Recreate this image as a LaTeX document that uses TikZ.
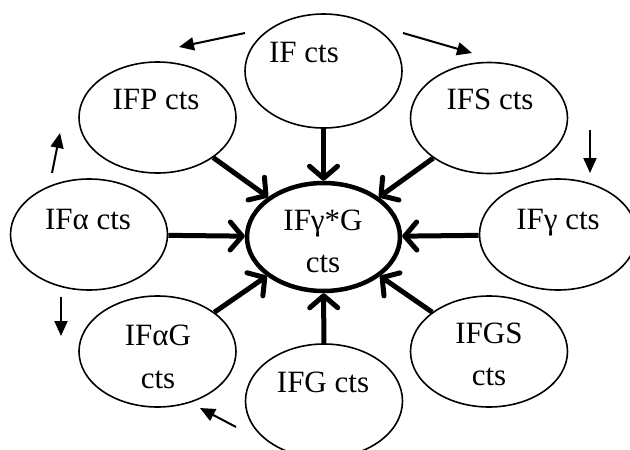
\documentclass[tikz,border=0pt]{standalone}
\usepackage{fontspec}
\setmainfont{Liberation Serif}
\usetikzlibrary{shapes.geometric,arrows.meta}
\begin{document}
\begin{tikzpicture}[x=1pt,y=-1pt,
  ell/.style={ellipse,draw,line width=1.6pt,inner sep=0pt,minimum width=157pt,minimum height=111pt},
  lbl/.style={anchor=base,inner sep=0pt,font=\fontsize{31}{37}\selectfont},
  thickarr/.style={line width=5pt,-{Straight Barb[length=12pt,width=28pt,line cap=round,line join=round]}},
  smallarr/.style={line width=2pt,-{Triangle[length=15pt,width=13pt]}}]
\useasboundingbox (0,0) rectangle (630,450);
\clip (0,0) rectangle (630,450);
% ellipses
\node[ell,minimum height=114pt] (if) at (323.5,71) {};
\node[ell] (ifp) at (157.5,117.5) {};
\node[ell] (ifs) at (489,118) {};
\node[ell] (ifa) at (89,234.5) {};
\node[ell,line width=4.5pt,minimum width=153pt,minimum height=108pt] (c) at (323.5,237) {};
\node[ell] (ifg) at (558,234.5) {};
\node[ell] (ifag) at (157.5,351.5) {};
\node[ell,minimum height=114pt] (ifgg) at (324,401) {};
\node[ell] (ifgs) at (489,351.5) {};
% labels
\node[lbl] (tif) at (304,62) {IF cts};
\node[lbl] (tifp) at (156,109) {IFP cts};
\node[lbl] (tifs) at (490,109) {IFS cts};
\node[lbl] (tifa) at (88,229) {IFα cts};
\node[lbl] (tc1) at (323,230) {IFγ*G};
\node[lbl] (tc2) at (323,272) {cts};
\node[lbl] (tifg) at (558,229) {IFγ cts};
\node[lbl] (tifag1) at (158,345) {IFαG};
\node[lbl] (tifag2) at (158,388) {cts};
\node[lbl] (tifgg) at (323,392) {IFG cts};
\node[lbl] (tifgs1) at (489,343) {IFGS};
\node[lbl] (tifgs2) at (489,385) {cts};
% thick arrows
\draw[thickarr] (if) -- (c);
\draw[thickarr] (ifp) -- (c);
\draw[thickarr] (ifs) -- (c);
\draw[thickarr] (ifa) -- (c);
\draw[thickarr] (ifg) -- (c);
\draw[thickarr] (ifag) -- (c);
\draw[thickarr] (ifgg) -- (c);
\draw[thickarr] (ifgs) -- (c);
% small arrows
\coordinate (a1s) at (245,33); \coordinate (a1e) at (179,47);
\coordinate (a2s) at (403,33); \coordinate (a2e) at (472,53);
\coordinate (a3s) at (590,130); \coordinate (a3e) at (590,173);
\coordinate (a4s) at (236,427); \coordinate (a4e) at (200,408);
\coordinate (a5s) at (61,297); \coordinate (a5e) at (61,336);
\coordinate (a6s) at (52,173); \coordinate (a6e) at (60,133);
\draw[smallarr] (a1s) -- (a1e);
\draw[smallarr] (a2s) -- (a2e);
\draw[smallarr] (a3s) -- (a3e);
\draw[smallarr] (a4s) -- (a4e);
\draw[smallarr] (a5s) -- (a5e);
\draw[smallarr] (a6s) -- (a6e);
\end{tikzpicture}
\end{document}
